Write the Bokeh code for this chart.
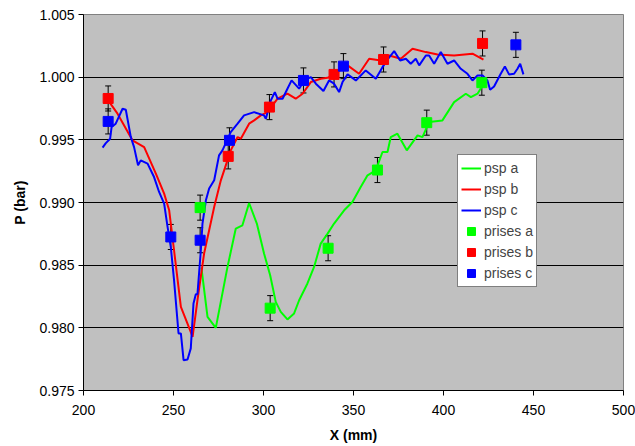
from bokeh.plotting import figure
from bokeh.models import (ColumnDataSource, Whisker, TeeHead, Legend, LegendItem,
                          FixedTicker, PrintfTickFormatter, Range1d)
from bokeh.embed import file_html
from bokeh.resources import INLINE

# ---- data ----
psp_a_x = [265.5, 268.9, 273.5, 280.0, 284.6, 288.3, 292.0, 296.3, 300.3, 303.7, 306.8, 309.6,
           313.3, 317.0, 319.8, 324.4, 328.1, 331.8, 335.6, 339.2, 344.8, 349.4, 354.0, 357.8,
           362.4, 366.1, 368.9, 370.7, 374.4, 379.6, 385.6, 388.3, 392.0, 399.4, 405.9, 412.4,
           415.2, 418.9, 421.7, 423.5]
psp_a_y = [0.98480, 0.98088, 0.98000, 0.98486, 0.98792, 0.98818, 0.98996, 0.98832, 0.98593,
           0.98420, 0.98207, 0.98127, 0.98067, 0.98115, 0.98220, 0.98354, 0.98486, 0.98672,
           0.98752, 0.98832, 0.98938, 0.99004, 0.99124, 0.99217, 0.99257, 0.99403, 0.99403,
           0.99522, 0.99549, 0.99416, 0.99536, 0.99522, 0.99642, 0.99655, 0.99801, 0.99868,
           0.99841, 0.99868, 0.99934, 0.99987]

psp_b_x = [213.7, 218.9, 227.2, 233.7, 240.2, 244.8, 247.6, 250.3, 254.1, 259.2, 260.6, 263.3,
           267.0, 272.6, 276.3, 281.8, 285.6, 287.4, 292.0, 294.8, 298.5, 302.2, 307.8, 313.3,
           317.9, 321.7, 326.3, 331.8, 335.6, 339.2, 346.7, 353.1, 358.7, 365.2, 369.8, 376.3,
           382.8, 390.2, 396.7, 405.9, 416.1, 422.2]
psp_b_y = [0.99815, 0.99709, 0.99496, 0.99442, 0.99230, 0.99071, 0.98938, 0.98619, 0.98167,
           0.97981, 0.97928, 0.98220, 0.98593, 0.98964, 0.99177, 0.99416, 0.99522, 0.99509,
           0.99629, 0.99655, 0.99695, 0.99721, 0.99828, 0.99868, 0.99828, 0.99868, 0.99961,
           0.99987, 0.99995, 1.00022, 1.00094, 1.00027, 1.00147, 1.00133, 1.00173, 1.00147,
           1.00227, 1.00200, 1.00181, 1.00173, 1.00187, 1.00139]

psp_c_x = [210.6, 212.4, 214.8, 215.6, 217.9, 221.7, 223.5, 226.3, 228.1, 230.3, 231.8, 235.6,
           239.2, 242.0, 244.8, 246.7, 248.5, 250.3, 252.8, 254.1, 255.6, 257.8, 259.6, 261.1,
           262.4, 263.3, 265.2, 266.1, 268.0, 269.8, 272.6, 275.3, 277.2, 281.8, 285.6, 289.2,
           294.8, 300.3, 301.3, 304.1, 306.3, 307.8, 310.6, 313.3, 315.6, 319.8, 322.6, 326.3,
           329.1, 333.3, 336.4, 339.2, 342.0, 343.9, 346.7, 351.3, 356.8, 362.4, 366.1, 369.3,
           372.6, 375.9, 379.1, 381.8, 384.6, 386.5, 390.2, 392.0, 394.8, 398.5, 402.2, 405.9,
           409.6, 413.3, 416.1, 418.9, 421.7, 424.4, 425.9, 428.1, 431.8, 434.1, 436.4, 439.2,
           441.1, 442.6, 444.4]
psp_c_y = [0.99438, 0.99474, 0.99509, 0.99602, 0.99629, 0.99748, 0.99740, 0.99522, 0.99442,
           0.99297, 0.99336, 0.99310, 0.99203, 0.99084, 0.98991, 0.98805, 0.98645, 0.98380,
           0.97955, 0.97955, 0.97742, 0.97748, 0.97836, 0.98194, 0.98268, 0.98268, 0.98619,
           0.98832, 0.99018, 0.99111, 0.99177, 0.99376, 0.99416, 0.99562, 0.99629, 0.99695,
           0.99721, 0.99695, 0.99669, 0.99815, 0.99881, 0.99828, 0.99828, 0.99908, 0.99974,
           0.99908, 0.99974, 1.00000, 0.99948, 0.99889, 0.99974, 0.99948, 0.99881, 0.99961,
           1.00022, 0.99974, 1.00054, 0.99987, 1.00080, 1.00147, 1.00208, 1.00133, 1.00147,
           1.00107, 1.00147, 1.00094, 1.00173, 1.00173, 1.00107, 1.00200, 1.00107, 1.00133,
           1.00067, 1.00027, 0.99974, 1.00014, 1.00014, 0.99974, 0.99900, 0.99926, 1.00027,
           1.00086, 1.00022, 1.00027, 1.00067, 1.00107, 1.00022]

prises_a_x = [264.8, 303.7, 335.9, 363.3, 390.7, 421.3]
prises_a_y = [0.98959, 0.98157, 0.98635, 0.99259, 0.99637, 0.99956]
prises_b_x = [213.7, 280.4, 303.3, 339.2, 366.7, 421.7]
prises_b_y = [0.99830, 0.99368, 0.99761, 1.00022, 1.00141, 1.00269]
prises_c_x = [213.7, 248.5, 264.8, 281.1, 322.2, 344.4, 440.2]
prises_c_y = [0.99647, 0.98725, 0.98699, 0.99496, 0.99974, 1.00088, 1.00258]
err = 0.001

x_ticks = [200, 250, 300, 350, 400, 450, 500]
y_ticks = [0.975, 0.980, 0.985, 0.990, 0.995, 1.000, 1.005]

FONT = "Liberation Sans"

p = figure(width=635, height=446, output_backend="svg", toolbar_location=None,
           x_range=Range1d(200, 500), y_range=Range1d(0.975, 1.005),
           min_border_left=83, min_border_right=12, min_border_top=14, min_border_bottom=56)
p.border_fill_color = "white"
p.background_fill_color = "#C0C0C0"
p.outline_line_color = "#808080"
p.outline_line_width = 1

# axes
p.xaxis.ticker = FixedTicker(ticks=x_ticks)
p.yaxis.ticker = FixedTicker(ticks=y_ticks)
p.yaxis.formatter = PrintfTickFormatter(format="%.3f")
for ax in (p.xaxis[0], p.yaxis[0]):
    ax.major_tick_in = 0
    ax.major_tick_out = 5
    ax.minor_tick_line_color = None
    ax.axis_line_color = "black"
    ax.major_tick_line_color = "black"
    ax.major_label_text_font = FONT
    ax.major_label_text_font_size = "14px"
    ax.major_label_text_color = "black"
    ax.axis_label_text_font = FONT
    ax.axis_label_text_font_size = "14px"
    ax.axis_label_text_font_style = "bold"
    ax.axis_label_text_color = "black"
p.xaxis.axis_label = "X (mm)"
p.yaxis.axis_label = "P (bar)"
p.xaxis.major_label_standoff = 9
p.xaxis.axis_label_standoff = 9
p.yaxis.major_label_standoff = 4
p.yaxis.axis_label_standoff = 8

p.xgrid.grid_line_color = None
p.ygrid.grid_line_color = "black"
p.ygrid.grid_line_width = 1

# lines
la = p.line(psp_a_x, psp_a_y, line_color="#00FF00", line_width=2)
lb = p.line(psp_b_x, psp_b_y, line_color="#FF0000", line_width=2)
lc = p.line(psp_c_x, psp_c_y, line_color="#0000FF", line_width=2)

# error bars + markers
marker_renderers = []
for xs, ys, col in ((prises_a_x, prises_a_y, "#00FF00"),
                    (prises_b_x, prises_b_y, "#FF0000"),
                    (prises_c_x, prises_c_y, "#0000FF")):
    src = ColumnDataSource(dict(x=xs, y=ys,
                                lo=[v - err for v in ys], hi=[v + err for v in ys]))
    w = Whisker(source=src, base="x", lower="lo", upper="hi", line_color="black",
                line_width=1,
                lower_head=TeeHead(size=6, line_color="black", line_width=1),
                upper_head=TeeHead(size=6, line_color="black", line_width=1),
                level="underlay")
    p.add_layout(w)
    r = p.scatter("x", "y", source=src, marker="square", size=10,
                  fill_color=col, line_color=col)
    marker_renderers.append(r)

items = [LegendItem(label="psp a", renderers=[la]),
         LegendItem(label="psp b", renderers=[lb]),
         LegendItem(label="psp c", renderers=[lc]),
         LegendItem(label="prises a", renderers=[marker_renderers[0]]),
         LegendItem(label="prises b", renderers=[marker_renderers[1]]),
         LegendItem(label="prises c", renderers=[marker_renderers[2]])]
legend = Legend(items=items, location=(374, 103))
legend.label_text_font = FONT
legend.label_text_font_size = "14px"
legend.label_height = 20
legend.glyph_height = 20
legend.glyph_width = 20
legend.spacing = 1
legend.padding = 3
legend.margin = 0
legend.label_standoff = 3
legend.border_line_color = "black"
legend.border_line_width = 1
legend.background_fill_color = "white"
legend.background_fill_alpha = 1
p.add_layout(legend)

open("out.html", "w").write(file_html(p, INLINE))
